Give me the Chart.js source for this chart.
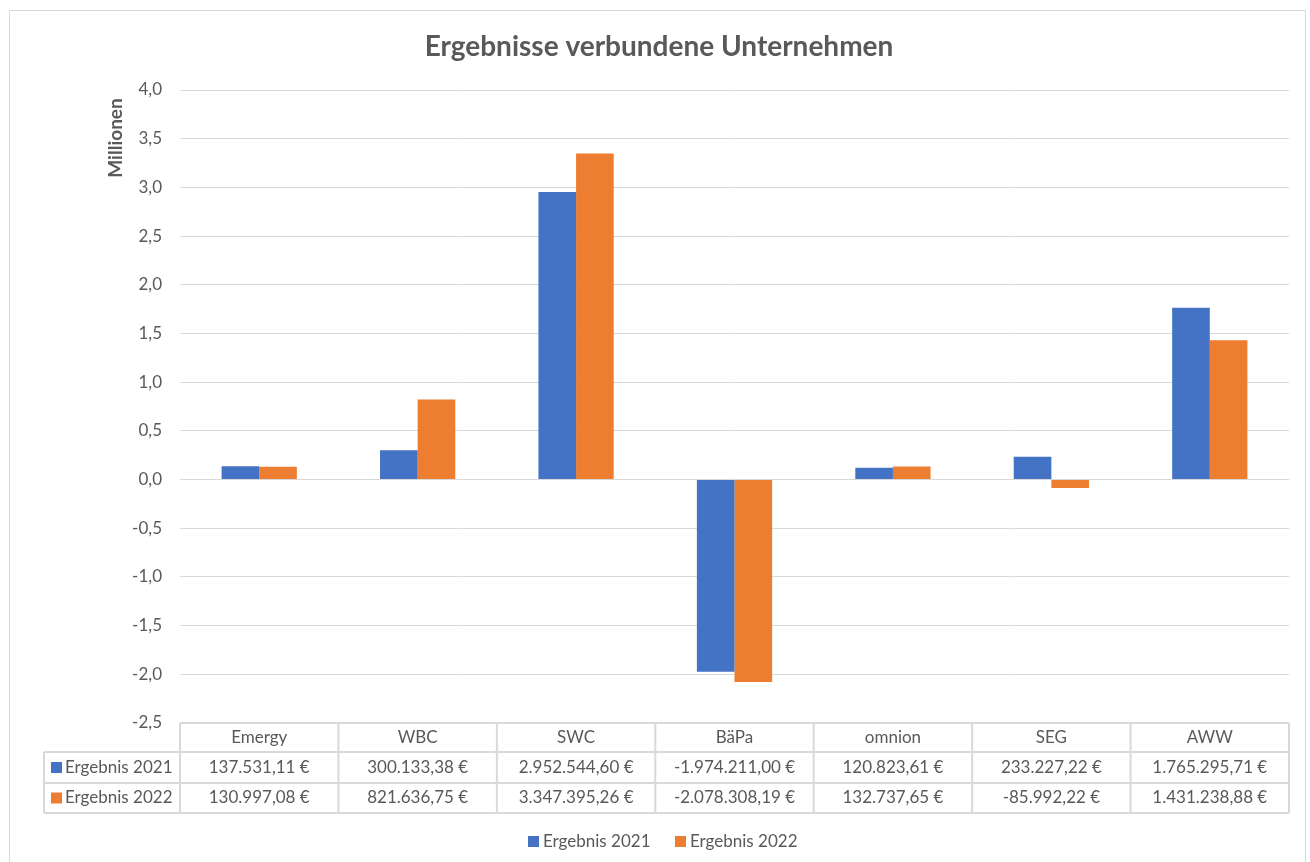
<!DOCTYPE html>
<html>
<head>
<meta charset="utf-8">
<script src="https://cdn.jsdelivr.net/npm/chart.js@4/dist/chart.umd.min.js"></script>
<style>
  html, body { margin: 0; padding: 0; background: #fff; }
  #wrap { width: 1310px; height: 862px; position: relative; }
</style>
</head>
<body>
<div id="wrap"><canvas id="ergebnisChart"></canvas></div>
<script>
// Daten aus der Tabelle
const kategorien = ["Emergy", "WBC", "SWC", "BäPa", "omnion", "SEG", "AWW"];
const ergebnis2021 = [137531.11, 300133.38, 2952544.6, -1974211.0, 120823.61, 233227.22, 1765295.71];
const ergebnis2022 = [130997.08, 821636.75, 3347395.26, -2078308.19, 132737.65, -85992.22, 1431238.88];
const serienNamen = ["Ergebnis 2021", "Ergebnis 2022"];
const yMin = -2500000;
const yMax = 4000000;
const yStep = 500000;

const farben = ["#4472C4", "#ED7D31"];
const textFarbe = "#595959";
const linienFarbe = "#d9d9d9";
const schrift = "Lato, 'Open Sans', sans-serif";

// 137531.11 -> "137.531,11 €"
function euro(wert) {
  const neg = wert < 0;
  const teile = Math.abs(wert).toFixed(2).split(".");
  const ganz = teile[0].replace(/\B(?=(\d{3})+(?!\d))/g, ".");
  return (neg ? "-" : "") + ganz + "," + teile[1] + " €";
}

// Rahmen, Titel, Achsentitel, Datentabelle und Legende
const excelExtras = {
  id: "excelExtras",
  afterDraw(chart) {
    const ctx = chart.ctx;
    const area = chart.chartArea;
    const x = chart.scales.x;
    ctx.save();

    ctx.strokeStyle = linienFarbe;
    ctx.lineWidth = 1;
    ctx.strokeRect(9.5, 10.5, 1296, 860);

    ctx.fillStyle = textFarbe;
    ctx.textAlign = "center";
    ctx.textBaseline = "middle";
    ctx.font = "bold 28px " + schrift;
    ctx.fillText("Ergebnisse verbundene Unternehmen", 659, 47);

    ctx.save();
    ctx.translate(116, 138);
    ctx.rotate(-Math.PI / 2);
    ctx.font = "bold 19px " + schrift;
    ctx.fillText("Millionen", 0, 0);
    ctx.restore();

    // Tabelle
    const breite = (area.right - area.left) / kategorien.length;
    const yKopf = area.bottom;
    const zeilen = [yKopf, 752, 783, 813];
    const labelLinks = 44;
    ctx.strokeStyle = linienFarbe;
    ctx.lineWidth = 2;
    ctx.beginPath();
    ctx.moveTo(area.left, zeilen[0]);
    ctx.lineTo(area.right, zeilen[0]);
    for (let r = 1; r < zeilen.length; r++) {
      ctx.moveTo(labelLinks, zeilen[r]);
      ctx.lineTo(area.right, zeilen[r]);
    }
    ctx.moveTo(labelLinks, zeilen[1]);
    ctx.lineTo(labelLinks, zeilen[3]);
    for (let i = 0; i <= kategorien.length; i++) {
      const gx = area.left + i * breite;
      ctx.moveTo(gx, zeilen[0]);
      ctx.lineTo(gx, zeilen[3]);
    }
    ctx.stroke();

    ctx.font = "17px " + schrift;
    ctx.fillStyle = textFarbe;
    const reihen = [ergebnis2021, ergebnis2022];
    kategorien.forEach((k, i) => {
      const cx = x.getPixelForValue(i);
      ctx.textAlign = "center";
      ctx.fillText(k, cx, (zeilen[0] + zeilen[1]) / 2);
      reihen.forEach((reihe, r) => {
        ctx.fillText(euro(reihe[i]), cx, (zeilen[r + 1] + zeilen[r + 2]) / 2);
      });
    });
    serienNamen.forEach((name, r) => {
      const cy = (zeilen[r + 1] + zeilen[r + 2]) / 2;
      ctx.fillStyle = farben[r];
      ctx.fillRect(51, cy - 5.5, 11, 11);
      ctx.fillStyle = textFarbe;
      ctx.textAlign = "left";
      ctx.fillText(name, 65, cy);
    });

    // Legende unten
    const legX = [528, 675];
    serienNamen.forEach((name, r) => {
      ctx.fillStyle = farben[r];
      ctx.fillRect(legX[r], 836, 11, 11);
      ctx.fillStyle = textFarbe;
      ctx.textAlign = "left";
      ctx.fillText(name, legX[r] + 15, 841.5);
    });

    ctx.restore();
  },
};

new Chart(document.getElementById("ergebnisChart"), {
  type: "bar",
  data: {
    labels: kategorien,
    datasets: [
      { label: serienNamen[0], data: ergebnis2021, backgroundColor: farben[0] },
      { label: serienNamen[1], data: ergebnis2022, backgroundColor: farben[1] },
    ],
  },
  options: {
    responsive: true,
    maintainAspectRatio: false,
    animation: false,
    devicePixelRatio: 1,
    categoryPercentage: 0.475,
    barPercentage: 1,
    layout: { padding: { left: 100, right: 21, top: 90, bottom: 139 } },
    plugins: {
      legend: { display: false },
      title: { display: false },
      tooltip: {
        callbacks: { label: (c) => " " + c.dataset.label + ": " + euro(c.raw) },
      },
    },
    scales: {
      x: { display: false },
      y: {
        min: yMin,
        max: yMax,
        afterFit(scale) { scale.width = 80; },
        grid: { color: linienFarbe, drawTicks: false, lineWidth: 1 },
        border: { display: false },
        ticks: {
          stepSize: yStep,
          padding: 18,
          color: textFarbe,
          font: { family: schrift, size: 17 },
          callback: (v) => (v / 1000000).toFixed(1).replace(".", ","),
        },
      },
    },
  },
  plugins: [excelExtras],
});
</script>
</body>
</html>
